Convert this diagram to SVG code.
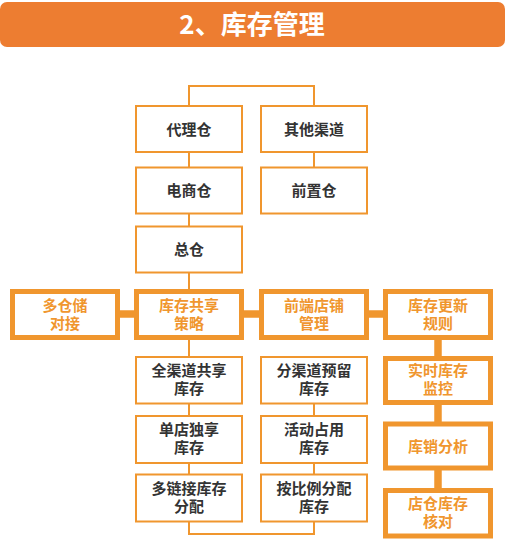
<svg xmlns="http://www.w3.org/2000/svg" width="505" height="542" viewBox="0 0 505 542">
<style>
.thin{fill:#fff;stroke:#F0962E;stroke-width:2}
.thick{fill:#fff;stroke:#F0962E;stroke-width:5}
.ln{fill:none;stroke:#F0962E;stroke-width:2}
.tk{fill:none;stroke:#F0962E;stroke-width:7.5}
.t{font-family:"Liberation Sans","Noto Sans CJK SC",sans-serif;font-size:15px;font-weight:bold;text-anchor:middle;fill:#333}
.o{fill:#F0962E}
.h{font-family:"Noto Sans CJK SC","Noto Sans",sans-serif;font-size:26px;font-weight:bold;text-anchor:middle;fill:#fff}
</style>
<rect x="0" y="2" width="505" height="45" rx="7" fill="#ED7D31"/>
<text class="h" x="252" y="34">2、库存管理</text>
<g id="connectors">
<polyline class="ln" points="189,105 189,86 314,86 314,105"/>
<line class="ln" x1="189" y1="153" x2="189" y2="168"/>
<line class="ln" x1="189" y1="213" x2="189" y2="227"/>
<line class="ln" x1="189" y1="272" x2="189" y2="290"/>
<line class="ln" x1="189" y1="339" x2="189" y2="357"/>
<line class="ln" x1="189" y1="403" x2="189" y2="416"/>
<line class="ln" x1="189" y1="463" x2="189" y2="475"/>
<polyline class="ln" points="189,521 189,534 314,534 314,521"/>
<line class="ln" x1="314" y1="153" x2="314" y2="168"/>
<line class="ln" x1="314" y1="403" x2="314" y2="416"/>
<line class="ln" x1="314" y1="463" x2="314" y2="475"/>
<line class="tk" x1="118" y1="314" x2="137" y2="314"/>
<line class="tk" x1="242" y1="314" x2="262" y2="314"/>
<line class="tk" x1="367" y1="314" x2="386" y2="314"/>
<line class="tk" x1="438" y1="338" x2="438" y2="359"/>
<line class="tk" x1="438" y1="402" x2="438" y2="424"/>
<line class="tk" x1="438" y1="468" x2="438" y2="491"/>
</g>
<g id="n-dailicang"><rect class="thin" x="136" y="106" width="106" height="46"/><text class="t" x="189" y="134.5">代理仓</text></g>
<g id="n-qitaqudao"><rect class="thin" x="261" y="106" width="106" height="46"/><text class="t" x="314" y="134.5">其他渠道</text></g>
<g id="n-dianshangcang"><rect class="thin" x="136" y="167.5" width="106" height="46"/><text class="t" x="189" y="196">电商仓</text></g>
<g id="n-qianzhicang"><rect class="thin" x="261" y="167.5" width="106" height="46"/><text class="t" x="314" y="196">前置仓</text></g>
<g id="n-zongcang"><rect class="thin" x="136" y="226.5" width="106" height="46"/><text class="t" x="189" y="255">总仓</text></g>
<g id="n-duocangchu"><rect class="thick" x="12.5" y="291.5" width="105" height="46"/><text class="t o" x="65" y="310.5">多仓储<tspan x="65" dy="18">对接</tspan></text></g>
<g id="n-gongxiang"><rect class="thick" x="136.5" y="291.5" width="105" height="46"/><text class="t o" x="189" y="310.5">库存共享<tspan x="189" dy="18">策略</tspan></text></g>
<g id="n-qianduan"><rect class="thick" x="261.5" y="291.5" width="105" height="46"/><text class="t o" x="314" y="310.5">前端店铺<tspan x="314" dy="18">管理</tspan></text></g>
<g id="n-gengxin"><rect class="thick" x="385.5" y="291.5" width="105" height="46"/><text class="t o" x="438" y="310.5">库存更新<tspan x="438" dy="18">规则</tspan></text></g>
<g id="n-quanqudao"><rect class="thin" x="136" y="357" width="106" height="46.5"/><text class="t" x="189" y="376">全渠道共享<tspan x="189" dy="18">库存</tspan></text></g>
<g id="n-fenqudao"><rect class="thin" x="261" y="357" width="106" height="46.5"/><text class="t" x="314" y="376">分渠道预留<tspan x="314" dy="18">库存</tspan></text></g>
<g id="n-dandian"><rect class="thin" x="136" y="416" width="106" height="47"/><text class="t" x="189" y="435">单店独享<tspan x="189" dy="18">库存</tspan></text></g>
<g id="n-huodong"><rect class="thin" x="261" y="416" width="106" height="47"/><text class="t" x="314" y="435">活动占用<tspan x="314" dy="18">库存</tspan></text></g>
<g id="n-duolianjie"><rect class="thin" x="136" y="474.5" width="106" height="47"/><text class="t" x="189" y="493.5">多链接库存<tspan x="189" dy="18">分配</tspan></text></g>
<g id="n-anbili"><rect class="thin" x="261" y="474.5" width="106" height="47"/><text class="t" x="314" y="493.5">按比例分配<tspan x="314" dy="18">库存</tspan></text></g>
<g id="n-shishi"><rect class="thick" x="385.5" y="358.5" width="105" height="44"/><text class="t o" x="438" y="376">实时库存<tspan x="438" dy="18">监控</tspan></text></g>
<g id="n-kuxiao"><rect class="thick" x="385.5" y="424" width="105" height="44"/><text class="t o" x="438" y="451.5">库销分析</text></g>
<g id="n-diancang"><rect class="thick" x="385.5" y="490.5" width="105" height="45.5"/><text class="t o" x="438" y="509">店仓库存<tspan x="438" dy="18">核对</tspan></text></g>
</svg>
